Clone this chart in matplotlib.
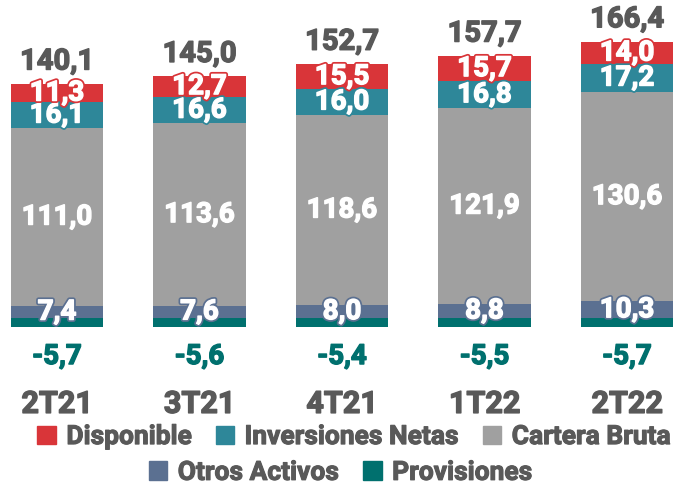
import matplotlib.pyplot as plt
import matplotlib.patheffects as pe
from matplotlib.patches import Patch

periodos = ['2T21', '3T21', '4T21', '1T22', '2T22']
provisiones = [-5.7, -5.6, -5.4, -5.5, -5.7]
otros_activos = [7.4, 7.6, 8.0, 8.8, 10.3]
cartera_bruta = [111.0, 113.6, 118.6, 121.9, 130.6]
inversiones = [16.1, 16.6, 16.0, 16.8, 17.2]
disponible = [11.3, 12.7, 15.5, 15.7, 14.0]
totales = [140.1, 145.0, 152.7, 157.7, 166.4]

c_disp = '#d93539'
c_inv = '#2e8799'
c_cart = '#a0a0a0'
c_otros = '#5b7091'
c_prov = '#00706e'
c_txt = '#595959'

plt.rcParams['font.family'] = ['Roboto', 'DejaVu Sans']


def fmt(v):
    return f'{v:.1f}'.replace('.', ',')


def efecto(relleno, borde, ancho_borde):
    # borde exterior + trazo fino del mismo color para engrosar la letra
    return [pe.Stroke(linewidth=ancho_borde, foreground=borde),
            pe.Stroke(linewidth=1.0, foreground=relleno), pe.Normal()]


fig = plt.figure(figsize=(6.81, 4.84), dpi=100)
ax = fig.add_axes([0, 0, 1, 1])
ax.set_xlim(-0.4, 4.379)
ax.set_ylim(-103.4, 198.1)
ax.axis('off')

x = list(range(len(periodos)))
ancho = 0.65

ax.bar(x, provisiones, ancho, color=c_prov)
base = [0] * len(x)
capas = [(otros_activos, c_otros), (cartera_bruta, c_cart),
         (inversiones, c_inv), (disponible, c_disp)]
for valores, color in capas:
    ax.bar(x, valores, ancho, bottom=base, color=color)
    for i, v in enumerate(valores):
        ax.text(i, base[i] + v / 2, fmt(v), ha='center', va='center',
                color='white', fontsize=20, fontweight='bold',
                path_effects=efecto('white', color, 3.5))
    base = [b + v for b, v in zip(base, valores)]

for i in x:
    ax.text(i, base[i] + 9, fmt(totales[i]), ha='center', va='baseline',
            color=c_txt, fontsize=21, fontweight='bold',
            path_effects=efecto(c_txt, 'white', 4.5))
    ax.text(i, -24, fmt(provisiones[i]), ha='center', va='center',
            color=c_prov, fontsize=20, fontweight='bold',
            path_effects=efecto(c_prov, 'white', 4.5))
    ax.text(i, -53.5, periodos[i], ha='center', va='center',
            color=c_txt, fontsize=22, fontweight='bold',
            path_effects=[pe.Stroke(linewidth=1.0, foreground=c_txt), pe.Normal()])

props = dict(weight='bold', size=19)
h1 = [Patch(color=c_disp, label='Disponible'),
      Patch(color=c_inv, label='Inversiones Netas'),
      Patch(color=c_cart, label='Cartera Bruta')]
h2 = [Patch(color=c_otros, label='Otros Activos'),
      Patch(color=c_prov, label='Provisiones')]
leg1 = fig.legend(handles=h1, ncol=3, loc='center', bbox_to_anchor=(0.52, 0.097),
                  frameon=False, prop=props, handlelength=0.7, handleheight=0.7,
                  handletextpad=0.4, columnspacing=0.9, labelcolor=c_txt)
leg2 = fig.legend(handles=h2, ncol=2, loc='center', bbox_to_anchor=(0.5, 0.023),
                  frameon=False, prop=props, handlelength=0.7, handleheight=0.7,
                  handletextpad=0.4, columnspacing=0.9, labelcolor=c_txt)
for leg in (leg1, leg2):
    for t in leg.get_texts():
        t.set_path_effects([pe.Stroke(linewidth=0.8, foreground=c_txt), pe.Normal()])

fig.savefig('out.png', dpi=100)
